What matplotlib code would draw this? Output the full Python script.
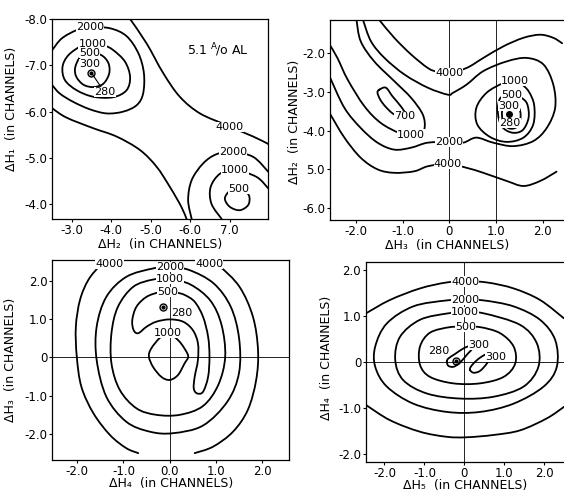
import matplotlib
matplotlib.use("Agg")
import numpy as np
import matplotlib.pyplot as plt
from matplotlib.path import Path
from matplotlib.patches import PathPatch

plt.rcParams['font.family'] = ['DejaVu Sans']

# ---------------- panel 1 : dH1 vs dH2 ----------------
p1_xticks = [-3, -4, -5, -6, -7]
p1_xlabels = ["-3.0", "-4.0", "-5.0", "-6.0", "7.0"]
p1_yticks = [-8, -7, -6, -5, -4]
p1_ylabels = ["-8.0", "-7.0", "-6.0", "-5.0", "-4.0"]

p1_2000a_x = [-2.51, -2.75, -3.13, -3.46, -3.97, -4.39, -4.69, -4.83, -4.81, -4.65, -4.31, -3.89, -3.46, -3.04, -2.70, -2.51]
p1_2000a_y = [-7.33, -7.58, -7.76, -7.82, -7.80, -7.63, -7.26, -6.83, -6.39, -6.14, -6.00, -5.96, -6.05, -6.21, -6.39, -6.57]
p1_1000a_x = [-3.53, -3.25, -2.92, -2.77, -2.83, -3.13, -3.55, -4.05, -4.39, -4.48, -4.35, -4.05, -3.80, -3.53]
p1_1000a_y = [-7.47, -7.42, -7.22, -6.97, -6.68, -6.46, -6.32, -6.31, -6.46, -6.75, -7.08, -7.33, -7.44, -7.47]
p1_500a_x = [-3.46, -3.22, -3.09, -3.12, -3.30, -3.55, -3.80, -3.95, -3.93, -3.75, -3.46]
p1_500a_y = [-7.26, -7.18, -6.95, -6.75, -6.58, -6.53, -6.60, -6.82, -7.05, -7.22, -7.26]
p1_4000a_x = [-4.48, -4.90, -5.32, -5.74, -6.25, -6.92, -7.01, -7.60, -7.98]
p1_4000a_y = [-8.00, -7.47, -6.83, -6.32, -5.96, -5.71, -5.67, -5.46, -5.30]
p1_4000b_x = [-2.51, -2.87, -3.55, -4.14, -4.73, -5.15, -5.49, -5.78, -5.91]
p1_4000b_y = [-6.07, -5.87, -5.64, -5.46, -5.17, -4.81, -4.37, -3.94, -3.68]
p1_2000b_x = [-6.04, -5.95, -6.04, -6.33, -6.67, -7.09, -7.60, -7.98]
p1_2000b_y = [-3.68, -4.09, -4.52, -4.88, -5.08, -5.13, -5.02, -4.70]
p1_1000b_x = [-6.80, -6.54, -6.52, -6.76, -7.13, -7.68, -7.98]
p1_1000b_y = [-3.68, -4.01, -4.37, -4.66, -4.74, -4.59, -4.34]
p1_500b_x = [-7.22, -7.01, -6.88, -7.01, -7.26, -7.47, -7.50, -7.39, -7.22]
p1_500b_y = [-4.32, -4.29, -4.12, -3.94, -3.87, -3.98, -4.16, -4.29, -4.32]
p1_min = (-3.50, -6.84)
p1_lab_text = ["2000", "1000", "500", "300", "280", "4000", "2000", "1000", "500"]
p1_lab_x = [-3.46, -3.53, -3.46, -3.46, -3.84, -7.01, -7.09, -7.13, -7.22]
p1_lab_y = [-7.82, -7.47, -7.27, -7.03, -6.43, -5.66, -5.13, -4.74, -4.32]

# ---------------- panel 2 : dH2 vs dH3 ----------------
p2_ticks = [-2, -1, 0, 1, 2]
p2_xlabels = ["-2.0", "-1.0", "0", "1.0", "2.0"]
p2_yticks = [-2, -3, -4, -5, -6]
p2_ylabels = ["-2.0", "-3.0", "-4.0", "5.0", "-6.0"]

p2_4000a_x = [-1.50, -1.18, -0.82, -0.46, -0.25, 0.0, 0.37, 0.73, 1.16, 1.59, 1.95, 2.23, 2.42]
p2_4000a_y = [-1.14, -1.60, -2.03, -2.38, -2.48, -2.50, -2.38, -2.12, -1.82, -1.60, -1.52, -1.60, -1.74]
p2_2000_x = [-1.85, -1.68, -1.39, -0.96, -0.46, -0.03, 0.08, 0.37, 0.73, 1.23, 1.66, 2.02, 2.23, 2.27, 2.09, 1.80,
             1.37, 0.94, 0.58, 0.30, 0.0, -0.46, -0.82, -1.18, -1.54, -1.90, -2.25, -2.56]
p2_2000_y = [-1.14, -1.69, -2.12, -2.55, -2.89, -3.07, -3.02, -2.81, -2.46, -2.21, -2.12, -2.29, -2.81, -3.41, -3.93, -4.27,
             -4.40, -4.31, -4.18, -4.31, -4.30, -4.31, -4.44, -4.49, -4.31, -3.93, -3.41, -2.62]
p2_1000a_x = [-1.99, -1.90, -1.61, -1.18, -0.82, -0.57, -0.53, -0.64, -0.82, -1.07, -1.47, -1.82, -2.18, -2.40, -2.56]
p2_1000a_y = [-1.14, -1.69, -2.21, -2.72, -3.15, -3.58, -3.93, -4.10, -4.10, -4.06, -3.80, -3.37, -2.68, -2.12, -1.79]
p2_700_x = [-1.50, -1.36, -1.22, -1.04, -0.93, -0.96, -1.18, -1.36, -1.48, -1.54, -1.50]
p2_700_y = [-2.94, -2.89, -3.11, -3.37, -3.58, -3.63, -3.58, -3.39, -3.20, -3.02, -2.94]
p2_4000b_x = [-2.56, -2.25, -1.90, -1.54, -1.18, -0.75, -0.46, -0.03, 0.37, 0.73, 1.23, 1.59, 1.95, 2.30]
p2_4000b_y = [-3.56, -4.18, -4.70, -5.00, -5.09, -5.05, -4.92, -4.86, -4.96, -5.09, -5.30, -5.43, -5.30, -5.06]
p2_1000b_x = [1.41, 1.16, 0.80, 0.58, 0.60, 0.87, 1.23, 1.59, 1.80, 1.82, 1.70, 1.52, 1.41]
p2_1000b_y = [-2.72, -2.77, -3.02, -3.41, -3.84, -4.16, -4.29, -4.18, -3.84, -3.34, -2.98, -2.77, -2.72]
p2_500_x = [1.34, 1.10, 1.04, 1.12, 1.34, 1.57, 1.70, 1.67, 1.53, 1.34]
p2_500_y = [-3.09, -3.15, -3.50, -3.88, -4.05, -3.99, -3.67, -3.31, -3.14, -3.09]
p2_300_x = [1.30, 1.16, 1.13, 1.18, 1.32, 1.47, 1.53, 1.48, 1.30]
p2_300_y = [-3.28, -3.38, -3.60, -3.85, -3.95, -3.88, -3.62, -3.38, -3.28]
p2_min = (1.28, -3.58)
p2_lab_text = ["4000", "2000", "4000", "1000", "700", "1000", "500", "300", "280"]
p2_lab_x = [0.0, 0.0, -0.03, -0.82, -0.96, 1.41, 1.34, 1.28, 1.30]
p2_lab_y = [-2.50, -4.30, -4.87, -4.10, -3.63, -2.72, -3.09, -3.37, -3.80]

# ---------------- panel 3 : dH3 vs dH4 ----------------
p3_xlabels = ["-2.0", "-1.0", "0.0", "1.0", "2.0"]
p3_yticks = [2, 1, 0, -1, -2]
p3_ylabels = ["2.0", "1.0", "0", "-1.0", "-2.0"]

p3_4000a_x = [-1.35, -1.51, -1.76, -1.94, -2.03, -2.01, -1.91, -1.65, -1.29, -0.94, -0.68]
p3_4000a_y = [2.43, 2.38, 2.02, 1.50, 0.80, 0.02, -0.77, -1.46, -2.03, -2.37, -2.50]
p3_4000b_x = [0.88, 1.08, 1.51, 1.80, 1.91, 1.87, 1.69, 1.37, 0.94, 0.54]
p3_4000b_y = [2.43, 2.37, 1.84, 1.06, 0.19, -0.59, -1.37, -1.94, -2.33, -2.50]
p3_2000_x = [0.0, -0.36, -0.94, -1.37, -1.58, -1.58, -1.37, -0.94, -0.43, 0.07, 0.72, 1.25, 1.50, 1.50, 1.32, 0.95, 0.42, 0.0]
p3_2000_y = [2.35, 2.32, 2.10, 1.58, 0.80, -0.07, -1.03, -1.68, -1.94, -1.98, -1.78, -1.15, -0.40, 0.50, 1.32, 1.93, 2.28, 2.35]
p3_1000a_x = [0.0, -0.36, -0.79, -1.12, -1.26, -1.26, -1.08, -0.72, -0.29, 0.22, 0.72, 1.05, 1.20, 1.12, 0.88, 0.45, 0.0]
p3_1000a_y = [2.04, 2.03, 1.84, 1.32, 0.63, -0.16, -0.85, -1.33, -1.50, -1.50, -1.27, -0.72, 0.02, 0.85, 1.48, 1.90, 2.04]
p3_500_x = [-0.04, -0.22, -0.50, -0.72, -0.81, -0.78, -0.68, -0.50, -0.29, 0.0, 0.29, 0.50, 0.61, 0.61, 0.54, 0.52,
            0.59, 0.72, 0.83, 0.86, 0.83, 0.72, 0.54, 0.32, 0.14, -0.04]
p3_500_y = [1.70, 1.70, 1.58, 1.32, 0.97, 0.71, 0.63, 0.80, 0.93, 0.99, 0.93, 0.71, 0.37, -0.07, -0.51, -0.81,
            -0.94, -0.90, -0.51, 0.02, 0.54, 1.06, 1.45, 1.63, 1.69, 1.70]
p3_1000b_x = [-0.04, -0.22, -0.40, -0.45, -0.36, -0.18, 0.0, 0.18, 0.32, 0.40, 0.32, 0.18, -0.04]
p3_1000b_y = [0.63, 0.50, 0.23, 0.02, -0.25, -0.51, -0.59, -0.46, -0.16, 0.02, 0.23, 0.45, 0.63]
p3_min = (-0.14, 1.32)
p3_lab_text = ["4000", "2000", "4000", "1000", "500", "280", "1000"]
p3_lab_x = [-1.30, 0.0, 0.85, 0.0, -0.04, 0.27, -0.04]
p3_lab_y = [2.43, 2.35, 2.43, 2.04, 1.70, 1.17, 0.63]

# ---------------- panel 4 : dH4 vs dH5 ----------------
p4_xlabels = ["-2.0", "-1.0", "0", "1.0", "2.0"]

p4_4000a_x = [-2.46, -1.86, -1.11, -0.44, 0.02, 0.56, 1.23, 1.89, 2.49]
p4_4000a_y = [1.05, 1.34, 1.59, 1.72, 1.74, 1.72, 1.59, 1.34, 0.94]
p4_4000b_x = [-2.46, -1.86, -1.11, -0.44, 0.06, 0.73, 1.39, 2.06, 2.49]
p4_4000b_y = [-0.94, -1.27, -1.52, -1.63, -1.64, -1.59, -1.49, -1.23, -0.98]
p4_2000_x = [0.02, -0.44, -1.28, -1.94, -2.23, -2.23, -1.94, -1.28, -0.44, 0.39, 1.23, 1.98, 2.31, 2.27, 1.89, 1.23, 0.48, 0.02]
p4_2000_y = [1.34, 1.33, 1.20, 0.83, 0.33, -0.11, -0.54, -0.91, -1.09, -1.09, -0.91, -0.54, -0.11, 0.47, 0.91, 1.20, 1.33, 1.34]
p4_1000_x = [0.02, -0.40, -1.11, -1.61, -1.73, -1.53, -0.94, -0.11, 0.73, 1.48, 1.85, 1.81, 1.39, 0.48, 0.02]
p4_1000_y = [1.07, 1.05, 0.91, 0.54, 0.04, -0.40, -0.69, -0.80, -0.76, -0.54, -0.11, 0.40, 0.80, 1.05, 1.07]
p4_500_x = [0.02, -0.36, -0.86, -1.11, -1.11, -0.86, -0.28, 0.39, 0.98, 1.27, 1.23, 0.89, 0.39, 0.02]
p4_500_y = [0.75, 0.75, 0.63, 0.33, -0.07, -0.33, -0.47, -0.47, -0.33, -0.04, 0.33, 0.62, 0.75, 0.75]
p4_300a_x = [-0.44, -0.40, -0.27, -0.11, 0.06, 0.18, 0.14, -0.02, -0.23, -0.40, -0.44]
p4_300a_y = [0.0, -0.09, -0.11, -0.02, 0.15, 0.27, 0.34, 0.29, 0.17, 0.07, 0.0]
p4_300b_x = [0.14, 0.23, 0.39, 0.56, 0.64, 0.60, 0.43, 0.27, 0.16, 0.14]
p4_300b_y = [-0.18, -0.24, -0.20, -0.04, 0.11, 0.18, 0.11, 0.0, -0.11, -0.18]
p4_min = (-0.22, 0.02)
p4_lab_text = ["4000", "2000", "1000", "500", "280", "300", "300"]
p4_lab_x = [0.02, 0.02, 0.02, 0.02, -0.63, 0.35, 0.77]
p4_lab_y = [1.74, 1.34, 1.07, 0.75, 0.24, 0.36, 0.11]

LW = 1.3
FS_LAB = 8
FS_TICK = 8.5


def smooth_path(xs, ys):
    pts = np.column_stack([xs, ys]).astype(float)
    n = len(pts)
    closed = np.allclose(pts[0], pts[-1])
    verts = [pts[0]]
    codes = [Path.MOVETO]
    for i in range(n - 1):
        if i > 0:
            p0 = pts[i - 1]
        else:
            p0 = pts[-2] if closed else pts[0]
        p1, p2 = pts[i], pts[i + 1]
        if i + 2 < n:
            p3 = pts[i + 2]
        else:
            p3 = pts[1] if closed else pts[-1]
        verts += [p1 + (p2 - p0) / 6.0, p2 - (p3 - p1) / 6.0, p2]
        codes += [Path.CURVE4] * 3
    return Path(verts, codes)


def draw_curves(ax, curves):
    for cx, cy in curves:
        ax.add_patch(PathPatch(smooth_path(cx, cy), fill=False, edgecolor='black',
                               lw=LW, capstyle='round', joinstyle='round'))


def draw_labels(ax, texts, xs, ys):
    for t, x, y in zip(texts, xs, ys):
        ax.text(x, y, t, ha='center', va='center', fontsize=FS_LAB, zorder=5,
                bbox=dict(facecolor='white', edgecolor='none', pad=0.1))


def draw_min(ax, pt):
    ax.plot(pt[0], pt[1], 'o', mfc='none', mec='black', ms=5, mew=1.0, zorder=6)
    ax.plot(pt[0], pt[1], 'o', color='black', ms=2, zorder=6)


def style(ax, xticks, xlabels, yticks, ylabels, xlab, ylab, xl_y, yl_x, yl_y):
    ax.set_xticks(xticks)
    ax.set_xticklabels(xlabels)
    ax.set_yticks(yticks)
    ax.set_yticklabels(ylabels)
    ax.tick_params(direction='out', length=2.5, width=0.8, labelsize=FS_TICK, pad=1)
    for s in ax.spines.values():
        s.set_linewidth(0.9)
    ax.set_xlabel(xlab, fontsize=9)
    ax.set_ylabel(ylab, fontsize=9)
    ax.xaxis.set_label_coords(0.5, xl_y)
    ax.yaxis.set_label_coords(yl_x, yl_y)


fig = plt.figure(figsize=(5.64, 4.92), dpi=100)

# panel 1
ax1 = fig.add_axes([0.0927, 0.5549, 0.383, 0.4065])
draw_curves(ax1, [(p1_2000a_x, p1_2000a_y), (p1_1000a_x, p1_1000a_y), (p1_500a_x, p1_500a_y),
                  (p1_4000a_x, p1_4000a_y), (p1_4000b_x, p1_4000b_y), (p1_2000b_x, p1_2000b_y),
                  (p1_1000b_x, p1_1000b_y), (p1_500b_x, p1_500b_y)])
ax1.plot([p1_min[0], p1_lab_x[4] + 0.08], [p1_min[1], p1_lab_y[4] - 0.08], color='black', lw=0.8)
draw_labels(ax1, p1_lab_text, p1_lab_x, p1_lab_y)
draw_min(ax1, p1_min)
ax1.text(-6.71, -7.33, r"5.1 $^{\rm A}\!$/o AL", ha='center', va='center', fontsize=9)
ax1.set_xlim(-2.51, -7.98)
ax1.set_ylim(-3.68, -8.0)
style(ax1, p1_xticks, p1_xlabels, p1_yticks, p1_ylabels,
      "ΔH₂  (in CHANNELS)", "ΔH₁  (in CHANNELS)", -0.095, -0.16, 0.55)

# panel 2
ax2 = fig.add_axes([0.585, 0.5528, 0.415, 0.4065])
ax2.axvline(0, color='black', lw=0.6)
ax2.axvline(1.0, color='black', lw=0.6)
draw_curves(ax2, [(p2_4000a_x, p2_4000a_y), (p2_2000_x, p2_2000_y), (p2_1000a_x, p2_1000a_y),
                  (p2_700_x, p2_700_y), (p2_4000b_x, p2_4000b_y), (p2_1000b_x, p2_1000b_y),
                  (p2_500_x, p2_500_y), (p2_300_x, p2_300_y)])
draw_labels(ax2, p2_lab_text, p2_lab_x, p2_lab_y)
ax2.plot(p2_min[0], p2_min[1], 'o', color='black', ms=4, zorder=6)
ax2.set_xlim(-2.56, 2.46)
ax2.set_ylim(-6.31, -1.14)
ax2.spines['right'].set_visible(False)
style(ax2, p2_ticks, p2_xlabels, p2_yticks, p2_ylabels,
      "ΔH₃  (in CHANNELS)", "ΔH₂  (in CHANNELS)", -0.095, -0.125, 0.49)

# panel 3
ax3 = fig.add_axes([0.0927, 0.065, 0.4197, 0.4065])
ax3.axvline(0, color='black', lw=0.6)
ax3.axhline(0, color='black', lw=0.6)
draw_curves(ax3, [(p3_4000a_x, p3_4000a_y), (p3_4000b_x, p3_4000b_y), (p3_2000_x, p3_2000_y),
                  (p3_1000a_x, p3_1000a_y), (p3_500_x, p3_500_y), (p3_1000b_x, p3_1000b_y)])
draw_labels(ax3, p3_lab_text, p3_lab_x, p3_lab_y)
draw_min(ax3, p3_min)
ax3.set_xlim(-2.54, 2.58)
ax3.set_ylim(-2.68, 2.54)
style(ax3, p2_ticks, p3_xlabels, p3_yticks, p3_ylabels,
      "ΔH₄  (in CHANNELS)", "ΔH₃  (in CHANNELS)", -0.085, -0.15, 0.5)

# panel 4
ax4 = fig.add_axes([0.649, 0.0616, 0.351, 0.4065])
ax4.axvline(0, color='black', lw=0.6)
ax4.axhline(0, color='black', lw=0.6)
draw_curves(ax4, [(p4_4000a_x, p4_4000a_y), (p4_4000b_x, p4_4000b_y), (p4_2000_x, p4_2000_y),
                  (p4_1000_x, p4_1000_y), (p4_500_x, p4_500_y), (p4_300a_x, p4_300a_y),
                  (p4_300b_x, p4_300b_y)])
draw_labels(ax4, p4_lab_text, p4_lab_x, p4_lab_y)
draw_min(ax4, p4_min)
ax4.set_xlim(-2.46, 2.49)
ax4.set_ylim(-2.17, 2.17)
ax4.spines['right'].set_visible(False)
style(ax4, p2_ticks, p4_xlabels, p3_yticks, p3_ylabels,
      "ΔH₅  (in CHANNELS)", "ΔH₄  (in CHANNELS)", -0.085, -0.165, 0.52)

fig.savefig('out.png', dpi=100)
